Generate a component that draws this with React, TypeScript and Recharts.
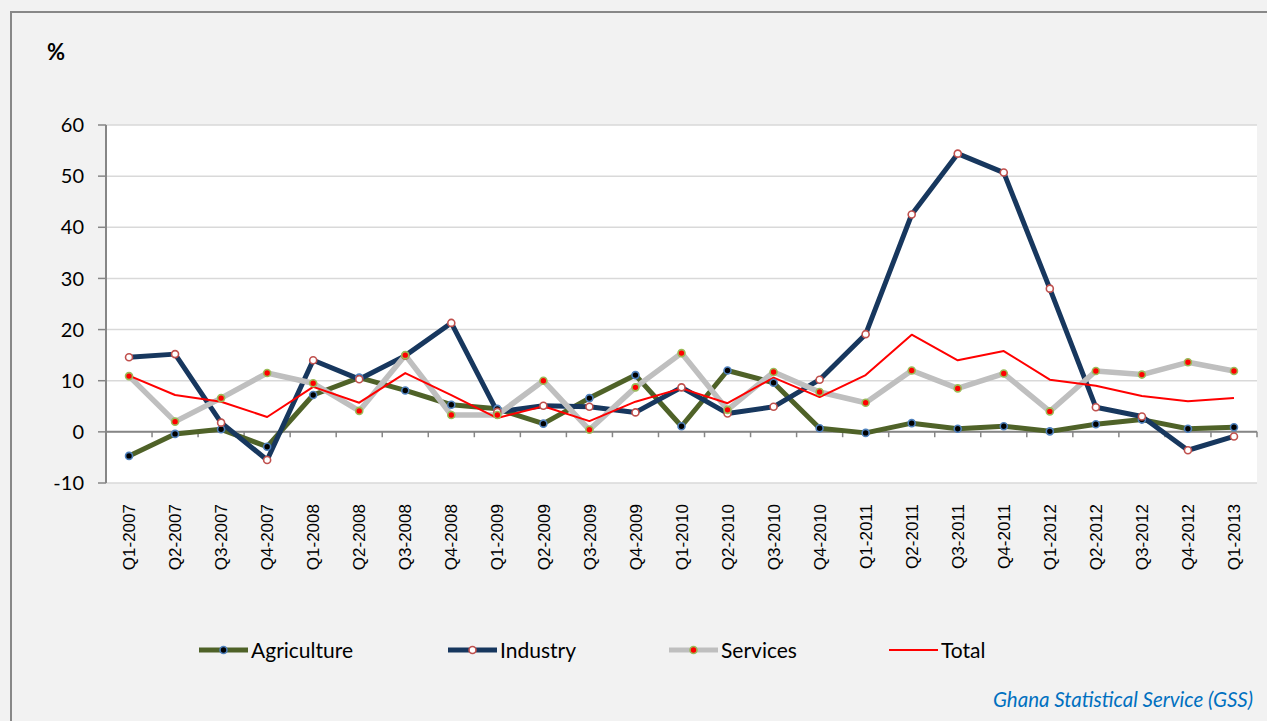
import React from 'react';
import { LineChart, Line, XAxis, YAxis, CartesianGrid, ReferenceLine } from 'recharts';

const categories = ['Q1-2007','Q2-2007','Q3-2007','Q4-2007','Q1-2008','Q2-2008','Q3-2008','Q4-2008','Q1-2009','Q2-2009','Q3-2009','Q4-2009','Q1-2010','Q2-2010','Q3-2010','Q4-2010','Q1-2011','Q2-2011','Q3-2011','Q4-2011','Q1-2012','Q2-2012','Q3-2012','Q4-2012','Q1-2013'];
const agriculture = [-4.7, -0.4, 0.5, -2.9, 7.2, 10.6, 8.1, 5.3, 4.5, 1.6, 6.6, 11.1, 1.1, 12.0, 9.6, 0.7, -0.2, 1.7, 0.6, 1.1, 0.1, 1.5, 2.4, 0.6, 0.9];
const industry = [14.6, 15.2, 1.8, -5.5, 14.0, 10.3, 14.9, 21.3, 3.9, 5.1, 4.9, 3.8, 8.7, 3.6, 4.9, 10.2, 19.1, 42.5, 54.4, 50.7, 28.0, 4.8, 3.0, -3.6, -0.9];
const services = [10.9, 2.0, 6.6, 11.5, 9.5, 4.1, 15.0, 3.3, 3.3, 10.0, 0.4, 8.7, 15.4, 4.3, 11.7, 7.8, 5.7, 12.0, 8.5, 11.4, 4.0, 11.9, 11.2, 13.6, 11.9];
const total = [11.0, 7.2, 5.9, 2.9, 8.8, 5.7, 11.5, 7.2, 2.7, 5.0, 2.1, 5.9, 8.5, 5.6, 10.6, 6.8, 11.1, 19.0, 14.0, 15.8, 10.2, 9.0, 7.0, 6.0, 6.6];
const yTicks = [-10, 0, 10, 20, 30, 40, 50, 60];

const data = categories.map((c, i) => ({
  i,
  cat: c,
  agriculture: agriculture[i],
  industry: industry[i],
  services: services[i],
  total: total[i],
}));
const boundaries = [-1, ...categories.map((_, i) => i)].map((k) => k + 0.5);

const CAL = 'Lato, "Open Sans", sans-serif';

const XTick = (props: any) => {
  const { x, y, payload } = props;
  return (
    <g transform={`translate(${x},${y})`}>
      <text transform="rotate(-90)" x={-21} y={0} dy="0.36em" textAnchor="end"
        fontFamily='"Liberation Sans", Arial, sans-serif' fontSize={17} fill="#000">
        {categories[payload.value]}
      </text>
    </g>
  );
};

const legendItems = [
  { name: 'Agriculture', color: '#4f6228', w: 5, dot: { fill: '#000', stroke: '#4f81bd' }, left: 199 },
  { name: 'Industry', color: '#17375e', w: 5, dot: { fill: '#fff', stroke: '#c0504d' }, left: 448 },
  { name: 'Services', color: '#bfbfbf', w: 5, dot: { fill: '#ff0000', stroke: '#9bbb59' }, left: 669 },
  { name: 'Total', color: '#ff0000', w: 2, dot: null as any, left: 889 },
];

export default function App() {
  return (
    <div style={{ position: 'absolute', left: 0, top: 0, width: 1267, height: 721, background: '#f2f2f2', overflow: 'hidden' }}>
      <div style={{ position: 'absolute', left: 10, top: 11, width: 1300, height: 800, borderLeft: '2px solid #888', borderTop: '2px solid #888' }} />
      <div style={{ position: 'absolute', left: 47, top: 38, fontFamily: CAL, fontWeight: 700, fontSize: 22, color: '#000' }}>%</div>
      <div style={{ position: 'absolute', left: 0, top: 0 }}>
        <LineChart width={1267} height={721} data={data} margin={{ top: 125, right: 10, left: 46, bottom: 138 }}>
          <CartesianGrid horizontal vertical={false} stroke="#d9d9d9" strokeWidth={1.5} fill="#ffffff" />
          <XAxis type="number" dataKey="i" domain={[-0.5, 24.5]} ticks={categories.map((_, i) => i)} interval={0}
            axisLine={false} tickLine={false} tickSize={0} tickMargin={0} height={100} tick={<XTick />} />
          <YAxis domain={[-10, 60]} ticks={yTicks} width={60} interval={0}
            axisLine={{ stroke: '#868686', strokeWidth: 2 }} tickLine={{ stroke: '#868686', strokeWidth: 1.5 }}
            tickSize={8} tickMargin={14} tick={{ fontFamily: CAL, fontSize: 20, fill: '#000' }} />
          <ReferenceLine y={0} stroke="#868686" strokeWidth={2} />
          {boundaries.map((b) => (
            <ReferenceLine key={b} segment={[{ x: b, y: 0 }, { x: b, y: -1.05 }]} stroke="#868686" strokeWidth={1.5} />
          ))}
          <Line dataKey="agriculture" stroke="#4f6228" strokeWidth={5} strokeLinejoin="round" isAnimationActive={false}
            dot={{ r: 3.5, fill: '#000', stroke: '#4f81bd', strokeWidth: 1.6 }} activeDot={false} />
          <Line dataKey="industry" stroke="#17375e" strokeWidth={5} strokeLinejoin="round" isAnimationActive={false}
            dot={{ r: 3.5, fill: '#fff', stroke: '#c0504d', strokeWidth: 1.6 }} activeDot={false} />
          <Line dataKey="services" stroke="#bfbfbf" strokeWidth={5.5} strokeLinejoin="round" isAnimationActive={false}
            dot={{ r: 3.5, fill: '#ff0000', stroke: '#9bbb59', strokeWidth: 1.6 }} activeDot={false} />
          <Line dataKey="total" stroke="#ff0000" strokeWidth={2} strokeLinejoin="round" isAnimationActive={false}
            dot={false} activeDot={false} />
        </LineChart>
      </div>
      {legendItems.map((it) => (
        <div key={it.name} style={{ position: 'absolute', left: it.left, top: 636, height: 28, display: 'flex', alignItems: 'center' }}>
          <svg width={50} height={12} style={{ display: 'block' }}>
            <line x1={0} y1={6} x2={49} y2={6} stroke={it.color} strokeWidth={it.w} />
            {it.dot && <circle cx={24.5} cy={6} r={3.5} fill={it.dot.fill} stroke={it.dot.stroke} strokeWidth={1.6} />}
          </svg>
          <span style={{ marginLeft: 2, fontFamily: CAL, fontSize: 21, color: '#000', lineHeight: '28px' }}>{it.name}</span>
        </div>
      ))}
      <div style={{ position: 'absolute', right: 14, top: 687, fontFamily: CAL, fontStyle: 'italic', fontSize: 20.5, color: '#0070c0', whiteSpace: 'nowrap' }}>
        Ghana Statistical Service (GSS)
      </div>
    </div>
  );
}
